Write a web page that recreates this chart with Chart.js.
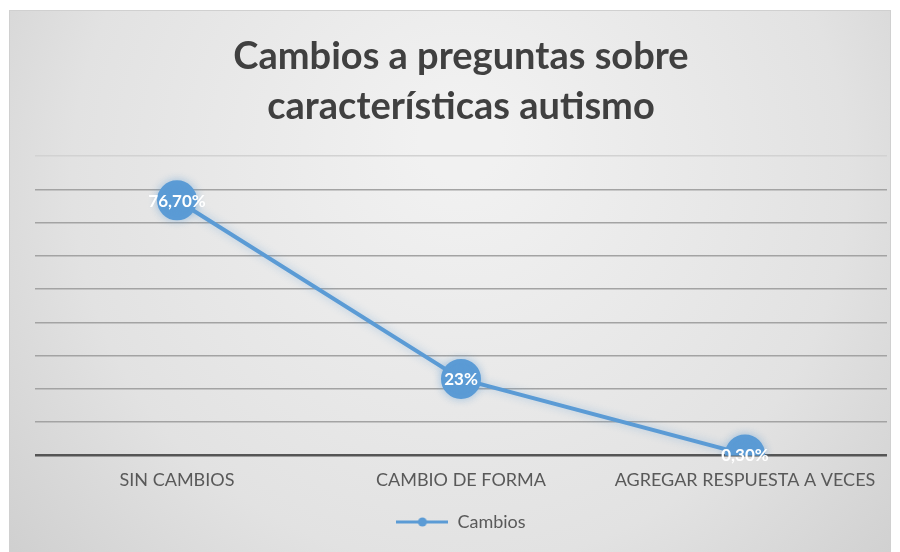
<!DOCTYPE html>
<html>
<head>
<meta charset="utf-8">
<script src="https://cdn.jsdelivr.net/npm/chart.js@4"></script>
<style>
  body { margin: 0; background: #fff; }
  #wrap { width: 900px; height: 552px; }
</style>
</head>
<body>
<div id="wrap"><canvas id="cambios-chart"></canvas></div>
<script>
// categories and values for the line chart
const categorias = ['SIN CAMBIOS', 'CAMBIO DE FORMA', 'AGREGAR RESPUESTA A VECES'];
const valores = [76.7, 23, 0.3];
const etiquetas = ['76,70%', '23%', '0,30%'];
const serie = 'Cambios';
const azul = '#5b9bd5';

// gray panel behind the chart
const fondo = {
    id: 'fondo',
    beforeDraw(chart) {
        const ctx = chart.ctx;
        ctx.save();
        ctx.fillStyle = '#ffffff';
        ctx.fillRect(0, 0, chart.width, chart.height);
        const g = ctx.createRadialGradient(460, 140, 40, 460, 200, 620);
        g.addColorStop(0, '#f1f1f1');
        g.addColorStop(0.6, '#e2e2e2');
        g.addColorStop(1, '#cbcbcb');
        ctx.fillStyle = g;
        ctx.fillRect(9, 10, 882, chart.height - 10);
        ctx.strokeStyle = '#d0d0d0';
        ctx.lineWidth = 1;
        ctx.strokeRect(9.5, 10.5, 881, chart.height);
        ctx.restore();
    }
};

// white value text on top of each point
const etiquetasPuntos = {
    id: 'etiquetasPuntos',
    afterDatasetsDraw(chart) {
        const ctx = chart.ctx;
        const meta = chart.getDatasetMeta(0);
        ctx.save();
        ctx.font = 'bold 17px Lato';
        ctx.textAlign = 'center';
        ctx.textBaseline = 'middle';
        ctx.fillStyle = '#ffffff';
        meta.data.forEach((pt, i) => {
            ctx.fillText(etiquetas[i], pt.x, pt.y + 1);
        });
        ctx.restore();
    }
};

// soft glow round the line and points
const brillo = {
    id: 'brillo',
    beforeDatasetsDraw(chart) {
        chart.ctx.save();
        chart.ctx.shadowColor = 'rgba(91,155,213,0.45)';
        chart.ctx.shadowBlur = 8;
    },
    afterDatasetsDraw(chart) {
        chart.ctx.restore();
    }
};

// legend marker: short line with a dot in the middle
function marcadorLeyenda() {
    const c = document.createElement('canvas');
    c.width = 52;
    c.height = 12;
    const x = c.getContext('2d');
    x.strokeStyle = azul;
    x.lineWidth = 3;
    x.beginPath();
    x.moveTo(0, 6);
    x.lineTo(52, 6);
    x.stroke();
    x.fillStyle = azul;
    x.beginPath();
    x.arc(26, 6, 4.5, 0, Math.PI * 2);
    x.fill();
    return c;
}

function renderChart() {
    const ctx = document.getElementById('cambios-chart').getContext('2d');
    const marcador = marcadorLeyenda();
    new Chart(ctx, {
        type: 'line',
        data: {
            labels: categorias,
            datasets: [{
                label: serie,
                data: valores,
                borderColor: azul,
                backgroundColor: azul,
                borderWidth: 4,
                pointRadius: 18,
                pointHoverRadius: 18,
                pointBackgroundColor: azul,
                pointBorderColor: azul,
                tension: 0
            }]
        },
        options: {
            responsive: true,
            maintainAspectRatio: false,
            animation: false,
            layout: { autoPadding: false, padding: { left: 35, right: 13, bottom: 11 } },
            plugins: {
                title: {
                    display: true,
                    text: ['Cambios a preguntas sobre', 'características autismo'],
                    color: '#404040',
                    font: { family: 'Lato', size: 38, weight: 'bold', lineHeight: 1.33 },
                    padding: { top: 31, bottom: 24 }
                },
                legend: {
                    position: 'bottom',
                    labels: {
                        color: '#595959',
                        font: { family: 'Lato', size: 18 },
                        usePointStyle: true,
                        pointStyleWidth: 52,
                        padding: 8,
                        generateLabels: () => [{
                            text: serie,
                            pointStyle: marcador,
                            fillStyle: azul,
                            strokeStyle: azul,
                            lineWidth: 0,
                            fontColor: '#595959',
                            datasetIndex: 0
                        }]
                    }
                },
                tooltip: { enabled: false }
            },
            scales: {
                x: {
                    offset: true,
                    grid: { display: false, drawTicks: false },
                    border: { display: false },
                    ticks: {
                        color: '#595959',
                        font: { family: 'Lato', size: 18 },
                        padding: 14,
                        maxRotation: 0
                    }
                },
                y: {
                    min: 0,
                    max: 90,
                    border: { display: false },
                    ticks: { display: false, stepSize: 10 },
                    grid: {
                        drawTicks: false,
                        color: c => c.tick.value === 0 ? '#555555' : (c.tick.value === 90 ? '#d2d2d2' : '#a3a3a3'),
                        lineWidth: c => c.tick.value === 0 ? 2.5 : 1.5
                    }
                }
            }
        },
        plugins: [fondo, brillo, etiquetasPuntos]
    });
}

document.addEventListener('DOMContentLoaded', function() {
    renderChart();
});
</script>
</body>
</html>
